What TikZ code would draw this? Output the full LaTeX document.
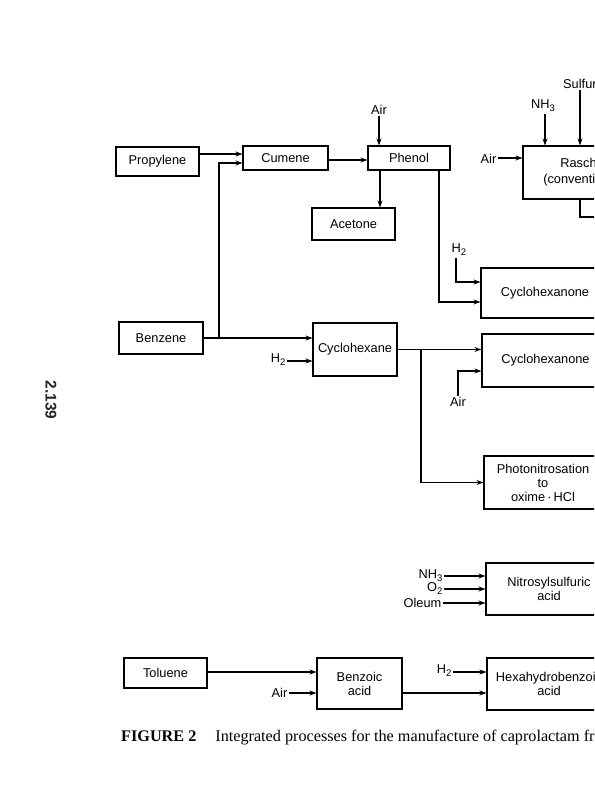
\documentclass[tikz,border=0pt]{standalone}
\usepackage{fontspec}
\setmainfont{Liberation Serif}
\newfontfamily\diagfont{Liberation Sans}
\usetikzlibrary{arrows.meta,calc}
\newcommand\lowsub[1]{\raisebox{-0.45ex}{\fontsize{9.5}{9.5}\selectfont#1}}
\begin{document}
\begin{tikzpicture}[x=1pt,y=-1pt,
  box/.style={draw, line width=1.1pt, inner sep=0pt, align=center, font=\diagfont\fontsize{12.8}{14}\selectfont},
  lab/.style={inner sep=1.5pt, font=\diagfont\fontsize{12.8}{14}\selectfont},
  flow/.style={line width=1.3pt},
  arr/.style={flow, -{Stealth[length=7pt,width=5pt,inset=2.5pt]}}]
\useasboundingbox (0,0) rectangle (594,800);
\fill[white] (0,0) rectangle (594,800);
\clip (0,0) rectangle (594,800);

% boxes
\node[box, minimum width=83pt, minimum height=29pt] (prop) at (157.5,161.5) {Propylene};
\node[box, minimum width=85pt, minimum height=24pt] (cum) at (285.5,158) {Cumene};
\node[box, minimum width=82pt, minimum height=24pt] (phen) at (409,158) {Phenol};
\node[box, minimum width=83pt, minimum height=32pt] (acet) at (353.5,224) {Acetone};
\node[box, minimum width=121pt, minimum height=53pt, font=\diagfont\fontsize{12.8}{16}\selectfont] (rasch) at (583.5,172.5) {Raschig\\(conventional)};
\node[box, minimum width=128pt, minimum height=50pt] (cy1) at (545,293) {Cyclohexanone};
\node[box, minimum width=127pt, minimum height=53pt] (cy2) at (545.5,360.5) {Cyclohexanone};
\node[box, minimum width=84pt, minimum height=32pt] (benz) at (161,338) {Benzene};
\node[box, minimum width=84pt, minimum height=53pt] (chex) at (355,349.5) {Cyclohexane};
\node[box, minimum width=118pt, minimum height=53pt] (photo) at (543,482.5) {Photonitrosation\\to\\oxime\,·\,HCl};
\node[box, minimum width=126pt, minimum height=52pt] (nitro) at (549,589) {Nitrosylsulfuric\\acid};
\node[box, minimum width=83pt, minimum height=30pt] (tol) at (165.5,673) {Toluene};
\node[box, minimum width=85pt, minimum height=51pt] (benzo) at (359.5,683.5) {Benzoic\\acid};
\node[box, minimum width=124pt, minimum height=52pt] (hexa) at (549,684) {Hexahydrobenzoic\\acid};

% propylene / benzene -> cumene -> phenol
\draw[arr] (prop.east |- 0,154) -- (cum.west |- 0,154);
\coordinate (bj) at (219,338);
\draw[arr] (benz.east) -- (chex.west |- benz.east);
\draw[arr] (bj) |- (cum.west |- 0,163);
\draw[arr] (cum.east |- 0,160) -- (phen.west |- 0,160);
\node[lab] (airP) at (379,110) {Air};
\draw[arr] (airP.south -| 379,0) -- (phen.north -| 379,0);
\draw[arr] (phen.south -| 380,0) -- (acet.north -| 380,0);

% phenol -> cyclohexanone
\draw[arr] (phen.south -| 439,0) |- (cy1.west |- 0,302);
\node[lab] (h2a) at (459,250) {H\lowsub{2}};
\draw[arr] (h2a.south -| 456,0) |- (cy1.west |- 0,282);

% cyclohexane
\node[lab, anchor=east] (h2c) at (287,360) {H\lowsub{2}};
\draw[arr] (h2c.east |- 0,361) -- (chex.west |- 0,361);
\draw[arr] (chex.east) -- (cy2.west |- chex.east);
\draw[arr] (chex.east -| 421,0) |- (photo.west);
\node[lab] (airC) at (458,402) {Air};
\draw[arr] (airC.north) |- (cy2.west |- 0,371);

% Raschig
\node[lab] (nh3r) at (543,106) {NH\lowsub{3}};
\draw[arr] (nh3r.south -| 545,0) -- (rasch.north -| 545,0);
\node[lab, anchor=west] (sulf) at (561.5,84) {Sulfur};
\draw[arr] (sulf.south -| 580,0) -- (rasch.north -| 580,0);
\node[lab, anchor=east] (airR) at (498,159) {Air};
\draw[arr] (airR.east |- 0,158) -- (rasch.west |- 0,158);
\coordinate (rout) at (610,217);
\draw[flow] (rasch.south -| 580,0) |- (rout);

% nitrosylsulfuric acid
\node[lab, anchor=east] (nh3n) at (444,576) {NH\lowsub{3}};
\draw[arr] (nh3n.east |- 0,576) -- (nitro.west |- 0,576);
\node[lab, anchor=east] (o2n) at (444,589) {O\lowsub{2}};
\draw[arr] (o2n.east |- 0,589) -- (nitro.west |- 0,589);
\node[lab, anchor=east] (oleum) at (443,603) {Oleum};
\draw[arr] (oleum.east |- 0,603) -- (nitro.west |- 0,603);

% toluene route
\draw[arr] (tol.east |- 0,672) -- (benzo.west |- 0,672);
\node[lab, anchor=east] (airB) at (289,693) {Air};
\draw[arr] (airB.east |- 0,693) -- (benzo.west |- 0,693);
\draw[arr] (benzo.east |- 0,693) -- (hexa.west |- 0,693);
\node[lab, anchor=east] (h2b) at (453,671) {H\lowsub{2}};
\draw[arr] (h2b.east |- 0,672) -- (hexa.west |- 0,672);

% caption and page number
\node[anchor=base west, inner sep=0pt, font=\fontsize{16.2}{18}\selectfont] (cap) at (121,741) {\textbf{FIGURE 2}\hspace{19pt}Integrated processes for the manufacture of caprolactam from};
\node[rotate=-90, inner sep=0pt, text=black!85, font=\diagfont\bfseries\fontsize{15.5}{15.5}\selectfont] (pg) at (51,400) {2.139};
\end{tikzpicture}
\end{document}
